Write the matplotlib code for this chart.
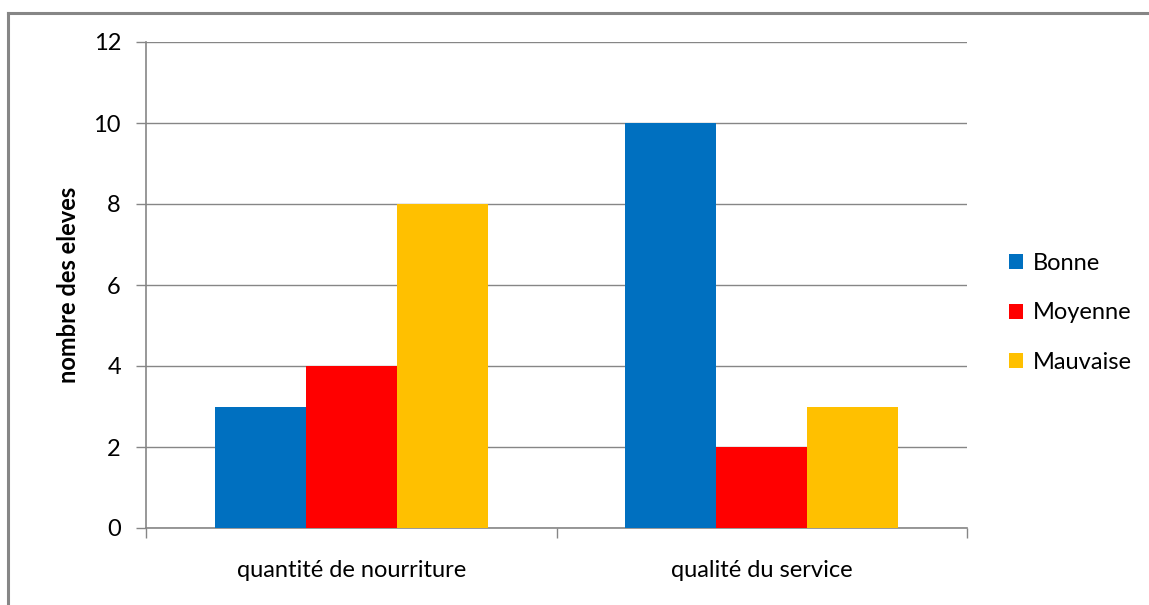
import numpy as np
import matplotlib.pyplot as plt
from matplotlib.patches import Patch
from matplotlib.lines import Line2D

categories = ['quantité de nourriture', 'qualité du service']
series_names = ['Bonne', 'Moyenne', 'Mauvaise']
bonne = [3, 10]
moyenne = [4, 2]
mauvaise = [8, 3]
colors = ['#0070C0', '#FF0000', '#FFC000']
y_ticks = [0, 2, 4, 6, 8, 10, 12]

plt.rcParams['font.family'] = ['Lato', 'DejaVu Sans']
grey = '#868686'
fs = 17

fig = plt.figure(figsize=(11.49, 6.05), dpi=100)
ax = fig.add_axes([146 / 1149, 1 - 528 / 605, 821 / 1149, 486 / 605])

x = np.arange(len(categories))
w = 0.222
for i, (vals, name) in enumerate(zip([bonne, moyenne, mauvaise], series_names)):
    ax.bar(x + (i - 1) * w, vals, w, color=colors[i], label=name, zorder=3)

ax.set_xlim(-0.5, 1.5)
ax.set_ylim(0, 12)
ax.set_yticks(y_ticks)
ax.set_yticklabels([str(t) for t in y_ticks], fontsize=fs)
ax.yaxis.grid(True, color=grey, linewidth=1, zorder=0)
ax.tick_params(axis='y', length=7, color=grey, width=1, pad=11)

# category boundary ticks on x axis
ax.set_xticks([-0.5, 0.5, 1.5])
ax.set_xticklabels([])
ax.tick_params(axis='x', length=7, color=grey, width=1)
for xi, lab in zip(x, categories):
    ax.text(xi, -0.065, lab, transform=ax.get_xaxis_transform(), ha='center', va='top',
            fontsize=fs)

for s in ['top', 'right']:
    ax.spines[s].set_visible(False)
for s in ['left', 'bottom']:
    ax.spines[s].set_color(grey)
    ax.spines[s].set_linewidth(1.2)

ax.set_ylabel('nombre des eleves', fontsize=fs, fontweight='bold', labelpad=10)

handles = [Patch(facecolor=c, edgecolor='none') for c in colors]
fig.legend(handles, series_names, loc='center left', bbox_to_anchor=(988 / 1149, 1 - 313 / 605),
           frameon=False, fontsize=fs, handlelength=0.6, handleheight=0.6,
           handletextpad=0.4, labelspacing=1.2)

# outer chart border (only left and top visible)
fig.add_artist(Line2D([8 / 1149, 8 / 1149], [0, 1 - 13 / 605], color=grey, linewidth=2.2,
                      transform=fig.transFigure))
fig.add_artist(Line2D([8 / 1149, 1], [1 - 13 / 605, 1 - 13 / 605], color=grey, linewidth=2.2,
                      transform=fig.transFigure))

fig.savefig('out.png', dpi=100)
